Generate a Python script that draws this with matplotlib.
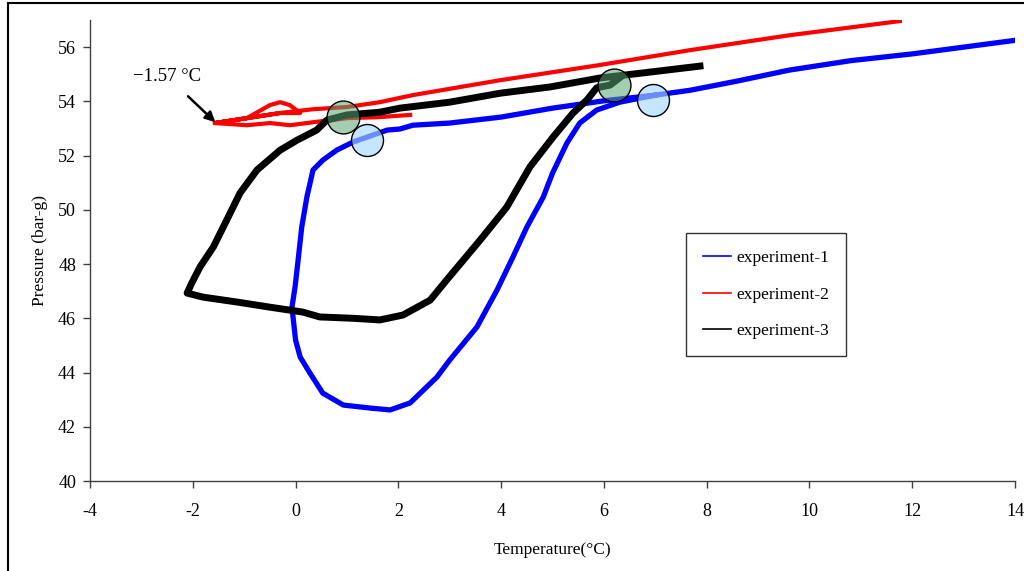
import matplotlib
matplotlib.use("Agg")
import matplotlib.pyplot as plt
from matplotlib.lines import Line2D

plt.rcParams['font.family'] = ['Liberation Serif', 'DejaVu Serif']
plt.rcParams['axes.unicode_minus'] = False

# ---- data ----
exp1_T = [14.0, 13.0, 12.0, 10.8, 9.6, 8.6, 7.68, 7.0, 6.0, 5.0, 4.0, 3.0, 2.28, 2.03, 1.78,
          1.39, 1.12, 0.8, 0.53, 0.34, 0.22, 0.12, 0.05, -0.01, -0.07, 0.0, 0.09, 0.28,
          0.53, 0.93, 1.45, 1.84, 2.23, 2.75, 3.0, 3.53, 3.92, 4.23, 4.5, 4.82, 5.0,
          5.28, 5.53, 5.86, 6.31, 7.0]
exp1_P = [56.25, 56.0, 55.75, 55.5, 55.15, 54.75, 54.41, 54.23, 54.02, 53.75, 53.42, 53.2, 53.12, 52.98, 52.94,
          52.68, 52.5, 52.2, 51.83, 51.47, 50.47, 49.36, 48.15, 47.15, 46.41, 45.2, 44.57, 43.98,
          43.24, 42.8, 42.69, 42.62, 42.88, 43.83, 44.46, 45.68, 47.04, 48.26, 49.36, 50.47, 51.35,
          52.46, 53.2, 53.68, 53.97, 54.23]

exp2_T = [2.23, 1.64, 1.0, 0.34, -0.11, -0.5, -0.95, -1.57, -0.95, -0.5, -0.3, -0.11, 0.09,
          -0.3, -0.95, -1.57, -0.95, -0.3, 0.34, 1.0, 1.64, 2.28, 3.98, 5.92, 7.68, 9.62, 11.76]
exp2_P = [53.5, 53.42, 53.38, 53.23, 53.12, 53.2, 53.12, 53.2, 53.38, 53.86, 53.97, 53.86, 53.57,
          53.57, 53.38, 53.2, 53.38, 53.57, 53.71, 53.79, 53.97, 54.23, 54.78, 55.34, 55.89, 56.44, 56.96]

exp3_T = [7.87, 6.9, 5.92, 4.95, 3.98, 3.0, 2.03, 1.64, 1.0, 0.61, 0.41, 0.03, -0.3, -0.75,
          -1.08, -1.34, -1.6, -1.86, -2.02, -2.11, -1.8, -1.14, -0.5, 0.14, 0.47, 1.12, 1.64,
          2.09, 2.62, 2.94, 3.59, 4.11, 4.56, 5.01, 5.4, 5.67, 5.86, 6.12, 6.3]
exp3_P = [55.3, 55.08, 54.86, 54.53, 54.3, 53.97, 53.75, 53.6, 53.5, 53.31, 52.94, 52.57, 52.2, 51.47,
          50.62, 49.62, 48.63, 47.89, 47.3, 46.93, 46.78, 46.6, 46.41, 46.23, 46.05, 46.0, 45.94,
          46.12, 46.67, 47.41, 48.88, 50.1, 51.58, 52.68, 53.57, 54.05, 54.5, 54.6, 54.86]

green_T = [0.93, 6.2]
green_P = [53.42, 54.6]
blue_T = [1.39, 6.95]
blue_P = [52.57, 54.05]

x_ticks = [-4, -2, 0, 2, 4, 6, 8, 10, 12, 14]
y_ticks = [40, 42, 44, 46, 48, 50, 52, 54, 56]
labels = ['experiment-1', 'experiment-2', 'experiment-3']
colors = ['#0000ff', '#ff0000', '#000000']

fig = plt.figure(figsize=(10.24, 5.71), dpi=100)
ax = fig.add_axes([90/1024, 1 - 481/571, 925/1024, 461/571])

ax.plot(exp1_T, exp1_P, color=colors[0], lw=3.8, solid_joinstyle='round')
ax.plot(exp2_T, exp2_P, color=colors[1], lw=3.0, solid_joinstyle='round')
ax.plot(exp3_T, exp3_P, color=colors[2], lw=5.0, solid_joinstyle='round')

ax.scatter(green_T, green_P, s=560, facecolor=(0.35, 0.65, 0.45, 0.55), edgecolor='black',
           linewidth=1.0, zorder=5)
ax.scatter(blue_T, blue_P, s=530, facecolor=(0.65, 0.85, 1.0, 0.65), edgecolor='black',
           linewidth=1.0, zorder=5)

ax.annotate('\u22121.57 \u00b0C', xy=(-1.56, 53.23), xytext=(-2.5, 54.92),
            ha='center', va='center', fontsize=13.5,
            arrowprops=dict(arrowstyle='-|>', color='black', lw=1.8, mutation_scale=15,
                            shrinkA=9, shrinkB=0))

ax.set_xlim(-4, 14)
ax.set_ylim(40, 57)
ax.set_xticks(x_ticks)
ax.set_yticks(y_ticks)
ax.tick_params(direction='out', length=5, width=1, colors='#404040', labelcolor='black',
               labelsize=13)
ax.tick_params(axis='x', pad=11)
ax.tick_params(axis='y', pad=5)
for s in ['top', 'right']:
    ax.spines[s].set_visible(False)
for s in ['left', 'bottom']:
    ax.spines[s].set_color('#404040')
    ax.spines[s].set_linewidth(1.0)

ax.set_xlabel('Temperature(\u00b0C)', fontsize=12.5, labelpad=16)
ax.set_ylabel('Pressure (bar-g)', fontsize=12.5, labelpad=7)

handles = [Line2D([0], [0], color=c, lw=1.2) for c in colors]
leg = ax.legend(handles, labels, loc='upper left', bbox_to_anchor=(0.644, 0.538),
                fontsize=12.5, frameon=True, fancybox=False, shadow=False,
                labelspacing=1.15, handlelength=1.6, handletextpad=0.3,
                borderpad=1.0, borderaxespad=0)
leg.get_frame().set_edgecolor('black')
leg.get_frame().set_linewidth(1.0)

# figure border (top and left edges visible in the reference)
fig.add_artist(Line2D([8/1024, 1.0], [1 - 3/571, 1 - 3/571], color='black', lw=1.5,
                      transform=fig.transFigure))
fig.add_artist(Line2D([8/1024, 8/1024], [0.0, 1 - 3/571], color='black', lw=1.5,
                      transform=fig.transFigure))

fig.savefig('out.png', dpi=100)
